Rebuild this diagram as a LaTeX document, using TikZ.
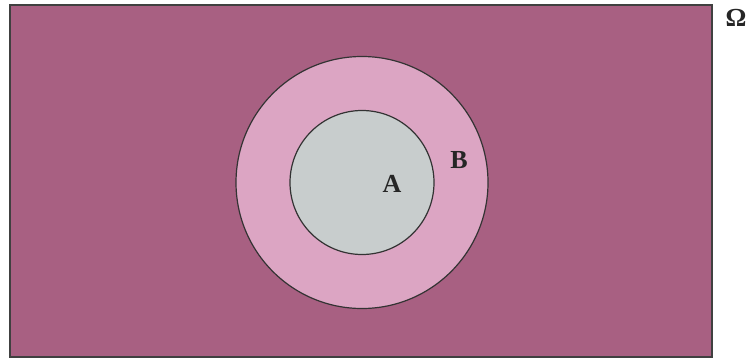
\documentclass[tikz,border=0pt]{standalone}
\usepackage{fontspec}
\setmainfont{Liberation Serif}
\definecolor{bgpurple}{RGB}{168,96,130}
\definecolor{ringpink}{RGB}{220,165,195}
\definecolor{innergray}{RGB}{200,205,205}
\tikzset{
  lbl/.style={font=\bfseries\fontsize{26}{26}\selectfont, text=black!85, inner sep=0pt},
  setcircle/.style={draw=black!80, line width=1.2pt}
}
\begin{document}
\begin{tikzpicture}[x=1pt,y=-1pt]
\useasboundingbox (0,0) rectangle (746,359);
\fill[white] (0,0) rectangle (746,359);
\draw[fill=bgpurple, draw=black!75, line width=1.5pt] (10,5) rectangle (712,357);
\draw[setcircle, fill=ringpink] (362,182.5) circle (126);
\draw[setcircle, fill=innergray] (362,182.5) circle (72);
\node[lbl] (A) at (392,184) {A};
\node[lbl] (B) at (459,160) {B};
\node[lbl, font=\bfseries\fontsize{26}{26}\selectfont] (O) at (736,18) {Ω};
\end{tikzpicture}
\end{document}
